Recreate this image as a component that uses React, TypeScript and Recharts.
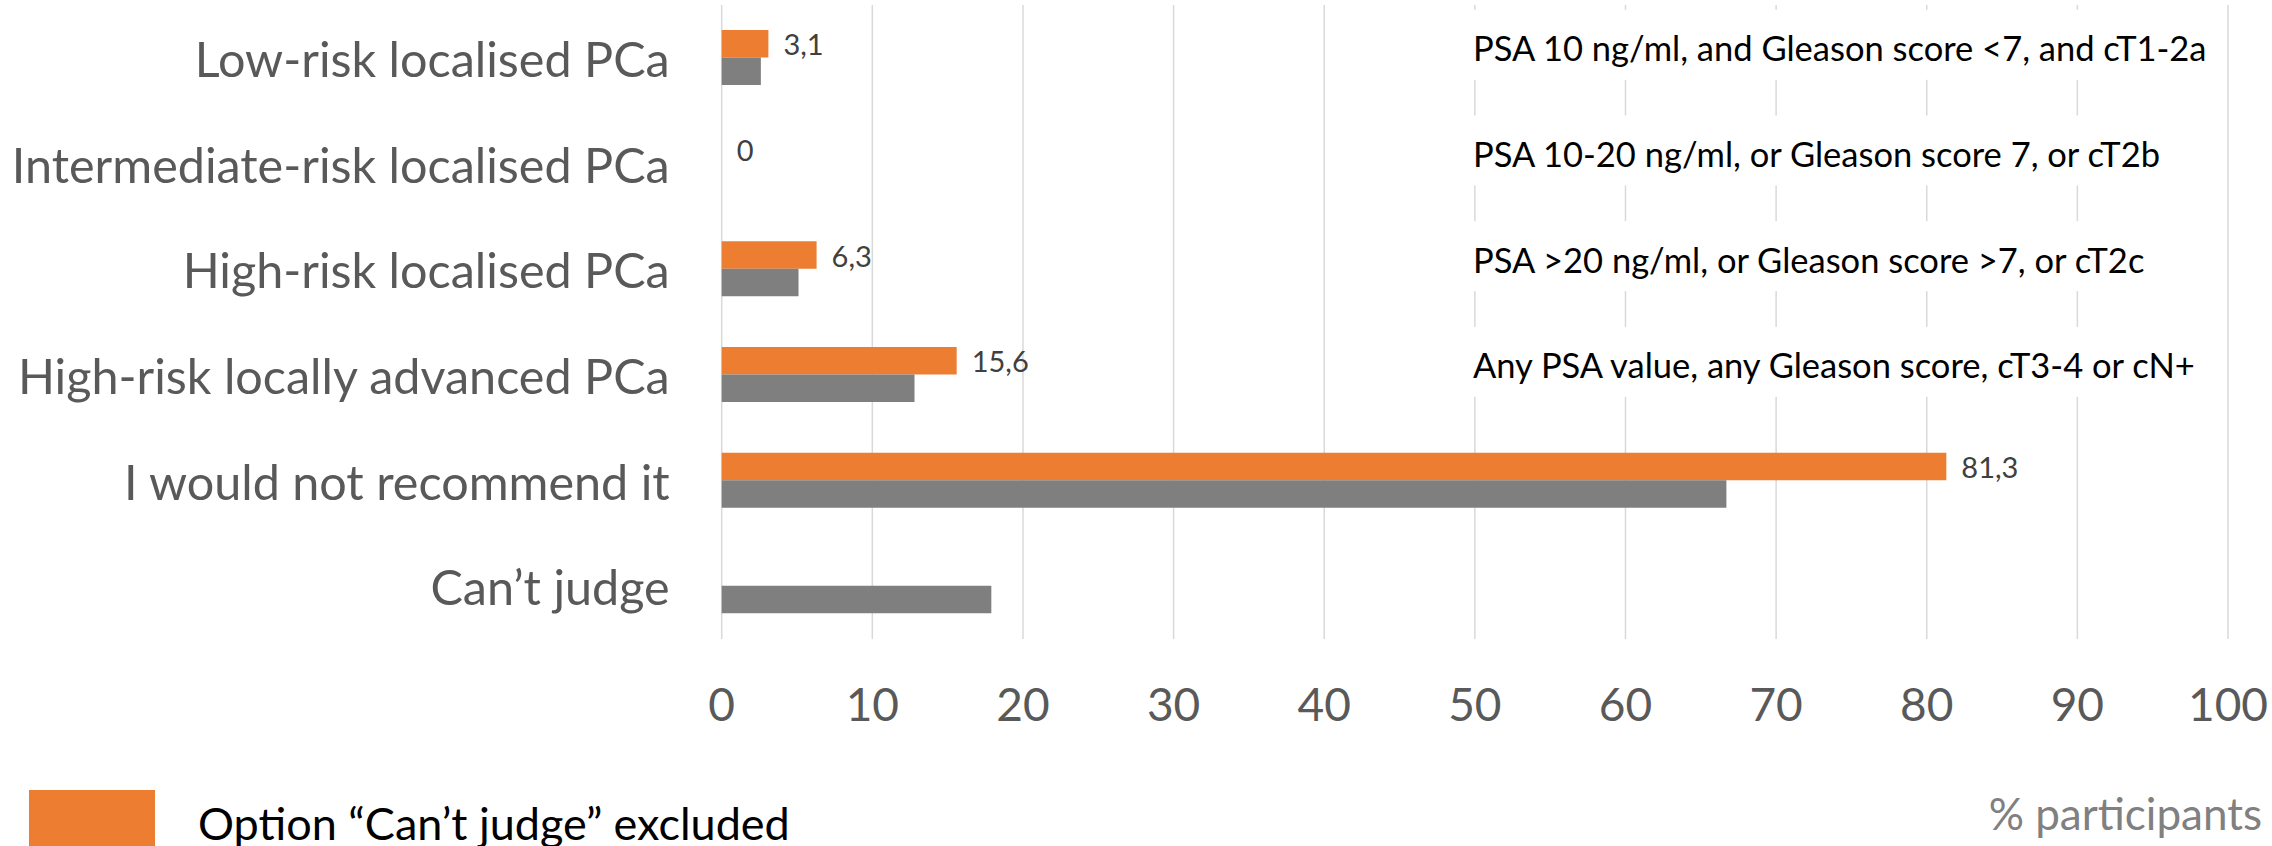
import React from 'react';
import { BarChart, Bar, XAxis, YAxis, CartesianGrid, LabelList } from 'recharts';

const FONT = "Lato, 'Open Sans', sans-serif";

const CATEGORIES = [
  'Low-risk localised PCa',
  'Intermediate-risk localised PCa',
  'High-risk localised PCa',
  'High-risk locally advanced PCa',
  'I would not recommend it',
  'Can\u2019t judge',
];

// share of participants once the "Can't judge" answers are dropped
const EXCLUDED = [3.1, 0, 6.3, 15.6, 81.3, null];
// share of all participants
const ALL = [2.6, 0, 5.1, 12.8, 66.7, 17.9];

const NOTES = [
  'PSA 10 ng/ml, and Gleason score <7, and cT1-2a',
  'PSA 10-20 ng/ml, or Gleason score 7, or cT2b',
  'PSA >20 ng/ml, or Gleason score >7, or cT2c',
  'Any PSA value, any Gleason score, cT3-4 or cN+',
  '',
  '',
];

const X_TICKS = [0, 10, 20, 30, 40, 50, 60, 70, 80, 90, 100];

const data = CATEGORIES.map((name, i) => ({
  name,
  excluded: EXCLUDED[i],
  all: ALL[i],
}));

const ORANGE = '#ed7d31';
const GRAY = '#7f7f7f';

const fmt = (v: number) => (v === 0 ? '0' : String(v).replace('.', ','));

function boxOf(props: any) {
  const vb = props.viewBox ?? props;
  return { x: Number(vb.x), y: Number(vb.y), width: Number(vb.width), height: Number(vb.height) };
}

function ValueLabel(props: any) {
  const { value } = props;
  if (value == null) return null;
  const { x, y, width, height } = boxOf(props);
  return (
    <text
      x={x + width + 15}
      y={y + height / 2}
      dominantBaseline="central"
      fontSize={29}
      fontFamily={FONT}
      fill="#404040"
    >
      {fmt(value)}
    </text>
  );
}

// category name on the left, plus the risk group definition in a white box
// on the right side of the plot (it hides the grid behind it)
function CategoryTick(props: any) {
  const { x, y, payload } = props;
  const name = payload?.value;
  const note = NOTES[CATEGORIES.indexOf(name)];
  const ny = Number(y) - 12;
  return (
    <g>
      <text
        x={x}
        y={y}
        textAnchor="end"
        dominantBaseline="central"
        fontSize={48.5}
        fontFamily={FONT}
        fill="#595959"
      >
        {name}
      </text>
      {note ? (
        <g>
          <rect x={1460} y={ny - 36} width={755} height={70} fill="#ffffff" />
          <text x={1473} y={ny + 2} dominantBaseline="central" fontSize={34.5} fontFamily={FONT} fill="#000000">
            {note}
          </text>
        </g>
      ) : null}
    </g>
  );
}

function AxisTitle(props: any) {
  const vb = props.viewBox;
  return (
    <text
      x={vb.x + vb.width + 34}
      y={813}
      textAnchor="end"
      dominantBaseline="central"
      fontSize={44}
      fontFamily={FONT}
      fill="#808080"
    >
      % participants
    </text>
  );
}

export default function App() {
  return (
    <div style={{ position: 'relative', width: 2272, height: 846, background: '#fff', fontFamily: FONT }}>
      <style>{'body{margin:0}'}</style>
      <BarChart
        layout="vertical"
        width={2272}
        height={846}
        data={data}
        margin={{ top: 5, right: 44, bottom: 0, left: 0 }}
        barGap={0}
      >
        <CartesianGrid horizontal={false} stroke="#d9d9d9" strokeWidth={1.5} />
        <XAxis
          type="number"
          domain={[0, 100]}
          ticks={X_TICKS}
          interval={0}
          height={207}
          axisLine={false}
          tickLine={false}
          tickSize={0}
          tickMargin={49}
          tick={{ fontSize: 46, fill: '#595959', fontFamily: FONT }}
          label={<AxisTitle />}
        />
        <YAxis
          type="category"
          dataKey="name"
          width={721.7}
          axisLine={false}
          tickLine={false}
          tickSize={0}
          tickMargin={52}
          interval={0}
          tick={<CategoryTick />}
        />
        <Bar
          dataKey="excluded"
          fill={ORANGE}
          barSize={27.5}
          minPointSize={(v: number) => (v === 0 ? 0.01 : 0)}
          isAnimationActive={false}
        >
          <LabelList dataKey="excluded" content={<ValueLabel />} />
        </Bar>
        <Bar dataKey="all" fill={GRAY} barSize={27.5} isAnimationActive={false} />
      </BarChart>
      <div style={{ position: 'absolute', left: 29, top: 790, width: 126, height: 56, background: ORANGE }} />
      <div
        style={{
          position: 'absolute',
          left: 198,
          top: 823,
          transform: 'translateY(-50%)',
          fontSize: 45,
          color: '#000',
          whiteSpace: 'nowrap',
          lineHeight: 1,
        }}
      >
        Option “Can’t judge” excluded
      </div>
    </div>
  );
}
